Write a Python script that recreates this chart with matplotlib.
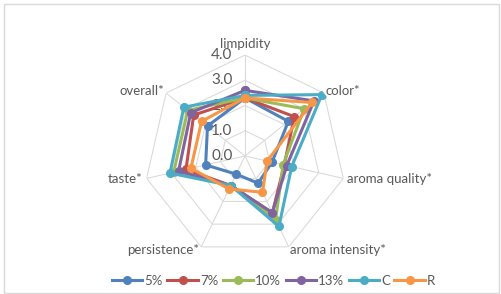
import numpy as np
import matplotlib
matplotlib.use("Agg")
import matplotlib.pyplot as plt
from matplotlib.patches import Rectangle

plt.rcParams['font.family'] = ['Lato', 'DejaVu Sans']

categories = ["limpidity", "color*", "aroma quality*", "aroma intensity*",
              "persistence*", "taste*", "overall*"]
series_names = ["5%", "7%", "10%", "13%", "C", "R"]
s_5 = [2.3, 2.2, 1.1, 1.2, 0.8, 1.6, 1.9]
s_7 = [2.3, 2.5, 1.6, 2.5, 1.3, 2.4, 2.6]
s_10 = [2.3, 3.0, 1.55, 2.8, 1.3, 2.9, 2.9]
s_13 = [2.6, 3.5, 1.7, 2.5, 1.3, 2.7, 2.75]
s_c = [2.4, 3.9, 1.9, 3.1, 1.3, 3.05, 3.1]
s_r = [2.3, 3.4, 0.9, 1.6, 1.45, 2.2, 2.2]
ticks = [0.0, 1.0, 2.0, 3.0, 4.0]

colors = ["#4F81BD", "#C0504D", "#9BBB59", "#8064A2", "#4BACC6", "#F79646"]
text_color = "#595959"
grid_color = "#D9D9D9"

fig = plt.figure(figsize=(5.02, 2.94), dpi=100)
ax = fig.add_axes([0.287, 0.126, 0.402, 0.687], projection="polar")
ax.set_theta_zero_location("N")
ax.set_theta_direction(-1)

n = len(categories)
angles = np.linspace(0, 2 * np.pi, n, endpoint=False)
closed = np.append(angles, angles[0])

# polygon grid
for t in ticks[1:]:
    ax.plot(closed, [t] * (n + 1), color=grid_color, lw=0.75, zorder=1)
for a in angles:
    ax.plot([a, a], [0, ticks[-1]], color=grid_color, lw=0.75, zorder=1)

all_series = [s_5, s_7, s_10, s_13, s_c, s_r]
for name, vals, c in zip(series_names, all_series, colors):
    v = np.append(vals, vals[0])
    ax.plot(closed, v, color=c, lw=2.2, marker="o", markersize=5.5,
            label=name, zorder=3)

ax.set_ylim(0, 4)
ax.grid(False)
ax.spines["polar"].set_visible(False)
ax.set_xticks([])
ax.set_yticks([])
ax.patch.set_alpha(0)

for t in ticks:
    ax.annotate(f"{t:.1f}", xy=(0, t), xytext=(-9, 0), textcoords="offset points",
                ha="right", va="center", fontsize=11, color=text_color, zorder=2)

label_pos = [(4.45, "center"), (4.1, "left"), (4.15, "left"), (4.15, "left"),
             (4.15, "right"), (4.15, "right"), (4.1, "right")]
for a, lab, (r, ha) in zip(angles, categories, label_pos):
    ax.text(a, r, lab, ha=ha, va="center", fontsize=9.5, color=text_color)

fig.legend(loc="lower center", bbox_to_anchor=(0.545, -0.015), ncol=6, frameon=False,
           fontsize=9.5, labelcolor=text_color, handlelength=2.3,
           handletextpad=0.15, columnspacing=0.35)

fig.patches.append(Rectangle((0.008, 0.005), 0.986, 0.98, transform=fig.transFigure,
                             fill=False, edgecolor=grid_color, lw=1))

fig.savefig("out.png", dpi=100)
